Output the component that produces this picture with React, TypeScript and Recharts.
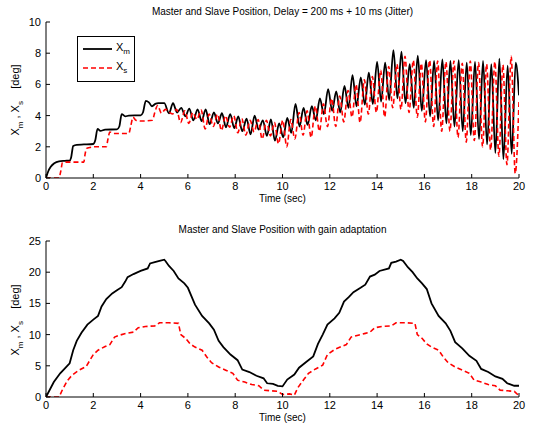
import React from 'react';
import { LineChart, Line, XAxis, YAxis } from 'recharts';

// time ticks shared by both plots
const timeTicks = [0, 2, 4, 6, 8, 10, 12, 14, 16, 18, 20];
const topTicks = [0, 2, 4, 6, 8, 10];
const bottomTicks = [0, 5, 10, 15, 20, 25];

// top plot: [time, deg]
const topMaster: [number, number][] = [
  [0, 0], [0.1, 0.45], [0.2, 0.72], [0.35, 0.95], [0.55, 1.07], [0.8, 1.1], [1.0, 1.12], [1.06, 1.3],
  [1.15, 2.05], [1.3, 2.13], [1.6, 2.15], [2.0, 2.18], [2.08, 2.4], [2.18, 3.15], [2.3, 3.02], [2.5, 3.1],
  [3.0, 3.12], [3.1, 3.3], [3.2, 4.1], [3.35, 3.95], [3.5, 4.0], [4.0, 4.02], [4.1, 4.2], [4.22, 4.95],
  [4.35, 4.85], [4.48, 4.6], [4.62, 4.75], [4.75, 4.8], [5.0, 4.8],
  [5.2, 4.15], [5.37, 4.8], [5.54, 4.2], [5.72, 4.5], [5.89, 3.95], [6.06, 4.45], [6.23, 3.7], [6.41, 4.4],
  [6.58, 3.65], [6.75, 4.4], [6.92, 3.45], [7.1, 4.2], [7.27, 3.5], [7.44, 4.15], [7.61, 3.25], [7.79, 4.1],
  [7.96, 3.2], [8.13, 3.95], [8.3, 3.0], [8.48, 3.8], [8.65, 2.8], [8.82, 4.0], [8.99, 3.1], [9.17, 3.7],
  [9.34, 2.7], [9.51, 3.75], [9.68, 2.4], [9.86, 3.5], [10.03, 2.6], [10.2, 3.85], [10.37, 2.9], [10.55, 4.75],
  [10.72, 3.3], [10.89, 4.5], [11.06, 3.4], [11.24, 4.6], [11.41, 3.7], [11.58, 5.1], [11.75, 4.1], [11.93, 5.7],
  [12.1, 4.3], [12.27, 5.55], [12.44, 4.2], [12.62, 5.9], [12.79, 4.5], [12.96, 6.6], [13.13, 4.6], [13.31, 6.45],
  [13.48, 4.7], [13.65, 6.75], [13.82, 4.75], [14.0, 7.45], [14.17, 4.9], [14.34, 7.4], [14.51, 5.0], [14.69, 8.2],
  [14.86, 5.1], [15.03, 8.1], [15.2, 4.8], [15.38, 7.3], [15.55, 4.5], [15.72, 7.85], [15.89, 4.3], [16.07, 7.55],
  [16.24, 3.95], [16.41, 7.5], [16.58, 3.7], [16.76, 7.6], [16.93, 3.5], [17.1, 7.5], [17.27, 3.3], [17.45, 7.55],
  [17.62, 3.0], [17.79, 7.4], [17.96, 2.75], [18.14, 7.45], [18.31, 2.5], [18.48, 7.5], [18.65, 2.15], [18.83, 7.3],
  [19.0, 1.6], [19.17, 7.65], [19.34, 1.2], [19.52, 7.2], [19.69, 1.55], [19.86, 7.4], [20.0, 5.3],
];

const topSlave: [number, number][] = [
  [0, 0], [0.55, 0], [0.62, 0.4], [0.7, 1.0], [0.9, 1.02], [1.6, 1.02], [1.65, 1.5], [1.72, 1.9],
  [1.85, 1.95], [2.0, 2.0], [2.55, 2.0], [2.62, 2.5], [2.7, 2.95], [2.85, 2.85], [3.5, 2.85], [3.58, 3.3],
  [3.68, 3.9], [3.8, 3.7], [4.0, 3.65], [4.5, 3.7], [4.6, 4.2], [4.72, 4.65], [4.88, 4.15], [5.05, 4.4],
  [5.35, 4.1], [5.52, 4.4], [5.69, 3.55], [5.87, 4.3], [6.04, 3.5], [6.21, 4.2], [6.38, 3.75], [6.56, 4.35],
  [6.73, 3.15], [6.9, 4.1], [7.07, 3.3], [7.25, 4.1], [7.42, 3.05], [7.59, 4.0], [7.76, 3.25], [7.94, 4.0],
  [8.11, 2.9], [8.28, 3.8], [8.45, 2.75], [8.63, 3.7], [8.8, 2.95], [8.97, 3.75], [9.14, 2.5], [9.32, 3.7],
  [9.49, 2.7], [9.66, 3.55], [9.83, 2.2], [10.01, 3.7], [10.18, 2.0], [10.35, 3.75], [10.52, 2.5], [10.7, 4.2],
  [10.87, 2.75], [11.04, 4.3], [11.21, 2.6], [11.39, 4.6], [11.56, 3.0], [11.73, 4.75], [11.9, 3.3], [12.08, 5.1],
  [12.25, 3.3], [12.42, 5.25], [12.59, 3.6], [12.77, 5.6], [12.94, 3.9], [13.11, 6.0], [13.28, 3.55], [13.46, 6.3],
  [13.63, 4.1], [13.8, 6.5], [13.97, 4.2], [14.15, 6.9], [14.32, 3.9], [14.49, 7.15], [14.66, 4.5], [14.84, 7.3],
  [15.01, 4.4], [15.18, 7.8], [15.35, 4.2], [15.53, 7.55], [15.7, 3.9], [15.87, 7.35], [16.04, 3.6], [16.22, 7.55],
  [16.39, 3.3], [16.56, 7.5], [16.73, 3.0], [16.91, 7.45], [17.08, 3.0], [17.25, 7.5], [17.42, 2.6], [17.6, 7.35],
  [17.77, 2.3], [17.94, 7.5], [18.11, 2.4], [18.29, 7.4], [18.46, 2.0], [18.63, 7.3], [18.8, 1.8], [18.98, 7.45],
  [19.15, 1.4], [19.32, 7.25], [19.49, 0.85], [19.67, 7.8], [19.84, 0.3], [20.0, 4.9],
];

// bottom plot: [time, deg]
const bottomMaster: [number, number][] = [
  [0, 0], [0.33, 2.4], [0.6, 3.8], [0.8, 4.6], [1.0, 5.4], [1.15, 7.5], [1.3, 9.0], [1.5, 10.3],
  [1.75, 11.6], [2.0, 12.4], [2.2, 13.0], [2.35, 14.5], [2.55, 15.7], [2.8, 16.6], [3.0, 17.1], [3.2, 17.6],
  [3.35, 18.5], [3.45, 19.2], [3.7, 19.7], [4.0, 20.2], [4.3, 20.6], [4.4, 21.4], [4.6, 21.6], [4.8, 21.8],
  [5.0, 22.0], [5.05, 21.8], [5.2, 21.0], [5.4, 20.2], [5.6, 19.0], [5.85, 18.2], [6.0, 17.5], [6.3, 14.8],
  [6.6, 13.0], [6.9, 11.8], [7.1, 10.8], [7.3, 9.0], [7.5, 8.0], [7.8, 6.8], [8.1, 5.9], [8.3, 4.4],
  [8.6, 4.0], [8.9, 3.4], [9.2, 3.0], [9.35, 2.2], [9.6, 2.1], [9.8, 1.8], [10.0, 1.7], [10.2, 2.8],
  [10.5, 3.6], [10.7, 4.7], [11.0, 5.6], [11.3, 6.5], [11.5, 8.5], [11.7, 10.0], [11.9, 11.6], [12.2, 12.6],
  [12.4, 13.5], [12.6, 15.3], [12.8, 16.0], [13.0, 16.8], [13.3, 17.5], [13.5, 18.0], [13.7, 19.3], [13.9, 19.6],
  [14.1, 20.2], [14.5, 20.6], [14.6, 21.5], [14.8, 21.7], [15.0, 22.0], [15.1, 21.8], [15.3, 20.8], [15.5, 20.0],
  [15.7, 19.0], [15.9, 18.2], [16.1, 17.3], [16.3, 15.0], [16.6, 13.0], [16.9, 11.8], [17.1, 10.6], [17.3, 8.8],
  [17.6, 7.8], [17.9, 6.6], [18.2, 5.8], [18.4, 4.5], [18.7, 4.0], [19.0, 3.3], [19.3, 2.9], [19.5, 2.2],
  [19.8, 1.8], [20.0, 1.8],
];

const bottomSlave: [number, number][] = [
  [0, 0], [0.55, 0], [0.7, 1.2], [0.9, 2.6], [1.1, 3.5], [1.4, 4.3], [1.7, 4.9], [2.0, 6.8],
  [2.2, 7.5], [2.5, 8.1], [2.7, 8.4], [2.9, 9.6], [3.1, 9.9], [3.4, 10.2], [3.7, 10.4], [3.9, 11.1],
  [4.2, 11.3], [4.6, 11.4], [4.8, 11.9], [5.2, 11.9], [5.6, 11.8], [5.7, 10.0], [5.9, 9.4], [6.1, 8.5],
  [6.3, 8.0], [6.6, 7.5], [6.8, 6.4], [7.0, 5.5], [7.3, 4.8], [7.6, 4.3], [7.9, 3.8], [8.1, 2.7],
  [8.4, 2.4], [8.7, 2.0], [9.0, 1.8], [9.2, 1.1], [9.5, 1.0], [9.8, 0.9], [10.0, 0.4], [10.3, 0.5],
  [10.5, 0.3], [10.65, 1.5], [10.9, 2.8], [11.1, 3.8], [11.4, 4.5], [11.7, 5.1], [11.9, 6.8], [12.2, 7.6],
  [12.5, 8.1], [12.7, 8.4], [12.9, 9.6], [13.2, 9.9], [13.5, 10.2], [13.7, 10.4], [13.9, 11.1], [14.2, 11.3],
  [14.6, 11.4], [14.8, 11.9], [15.2, 11.9], [15.6, 11.8], [15.7, 10.0], [15.9, 9.4], [16.1, 8.5], [16.3, 8.0],
  [16.6, 7.5], [16.8, 6.4], [17.0, 5.5], [17.3, 4.8], [17.6, 4.3], [17.9, 3.8], [18.1, 2.7], [18.4, 2.4],
  [18.7, 2.0], [19.0, 1.8], [19.2, 1.1], [19.5, 1.0], [19.8, 0.9], [20.0, 0.2],
];

const FONT = '"Liberation Sans", Arial, sans-serif';
const toRows = (arr: [number, number][]) => arr.map(([t, v]) => ({ t, v }));

// MATLAB style ticks: small marks pointing into the box
const BottomTick = (props: any) => {
  const { x, y, payload } = props;
  return (
    <g>
      <line x1={x} y1={y} x2={x} y2={y - 4} stroke="#000" />
      <text x={x} y={y + 12} textAnchor="middle" fontSize={11} fontFamily={FONT} fill="#000">{payload.value}</text>
    </g>
  );
};
const TopTick = (props: any) => (
  <line x1={props.x} y1={props.y} x2={props.x} y2={props.y + 4} stroke="#000" />
);
const LeftTick = (props: any) => {
  const { x, y, payload } = props;
  return (
    <g>
      <line x1={x} y1={y} x2={x + 4} y2={y} stroke="#000" />
      <text x={x - 5} y={y + 4} textAnchor="end" fontSize={11} fontFamily={FONT} fill="#000">{payload.value}</text>
    </g>
  );
};
const RightTick = (props: any) => (
  <line x1={props.x} y1={props.y} x2={props.x - 4} y2={props.y} stroke="#000" />
);

const Panel = ({ master, slave, yMax, yTicks, smooth }: any) => (
  <LineChart width={534} height={210} margin={{ top: 22, right: 15, bottom: 7, left: 6 }}>
    <XAxis dataKey="t" type="number" domain={[0, 20]} ticks={timeTicks} tickSize={0} tickMargin={0}
      tick={<BottomTick />} height={25} stroke="#000" allowDataOverflow />
    <XAxis xAxisId="top" orientation="top" dataKey="t" type="number" domain={[0, 20]} ticks={timeTicks}
      tickSize={0} tickMargin={0} tick={<TopTick />} height={0} stroke="#000" allowDataOverflow />
    <YAxis type="number" domain={[0, yMax]} ticks={yTicks} tickSize={0} tickMargin={0} tick={<LeftTick />}
      width={40} stroke="#000" allowDataOverflow />
    <YAxis yAxisId="right" orientation="right" type="number" domain={[0, yMax]} ticks={yTicks} tickSize={0}
      tickMargin={0} tick={<RightTick />} width={0} stroke="#000" allowDataOverflow />
    <Line data={toRows(master)} dataKey="v" type={smooth ? 'monotone' : 'linear'} stroke="#000" strokeWidth={1.8}
      dot={false} isAnimationActive={false} />
    <Line data={toRows(slave)} dataKey="v" type={smooth ? 'monotone' : 'linear'} stroke="#ff0000" strokeWidth={1.6}
      strokeDasharray="5 3" dot={false} isAnimationActive={false} />
  </LineChart>
);

const YLabel = ({ top }: { top: number }) => (
  <div style={{
    position: 'absolute', left: 17, top, transform: 'translate(-50%, -50%) rotate(-90deg)',
    whiteSpace: 'nowrap', fontFamily: FONT, fontSize: 11,
  }}>
    X<sub style={{ fontSize: 8 }}>m</sub> , X<sub style={{ fontSize: 8 }}>s</sub>&nbsp;&nbsp;&nbsp;&nbsp;[deg]
  </div>
);

const textStyle: React.CSSProperties = {
  position: 'absolute', left: 46, width: 473, textAlign: 'center', fontFamily: FONT, fontSize: 10, whiteSpace: 'nowrap',
};

export default function App() {
  return (
    <div style={{ position: 'absolute', left: 0, top: 0, width: 534, height: 427, background: '#fff', overflow: 'hidden' }}>
      <div style={{ position: 'absolute', left: 0, top: 0 }}>
        <Panel master={topMaster} slave={topSlave} yMax={10} yTicks={topTicks} smooth />
      </div>
      <div style={{ position: 'absolute', left: 0, top: 219 }}>
        <Panel master={bottomMaster} slave={bottomSlave} yMax={25} yTicks={bottomTicks} smooth={false} />
      </div>

      <div style={{ ...textStyle, top: 6 }}>Master and Slave Position, Delay = 200 ms + 10 ms (Jitter)</div>
      <div style={{ ...textStyle, top: 193 }}>Time (sec)</div>
      <div style={{ ...textStyle, top: 224 }}>Master and Slave Position with gain adaptation</div>
      <div style={{ ...textStyle, top: 412 }}>Time (sec)</div>
      <YLabel top={100} />
      <YLabel top={320} />

      {/* legend */}
      <div style={{ position: 'absolute', left: 77, top: 36, width: 56, height: 44, border: '1px solid #000', background: '#fff', fontFamily: FONT, fontSize: 11 }}>
        <svg width={56} height={44} style={{ position: 'absolute', left: 0, top: 0 }}>
          <line x1={5} y1={12} x2={34} y2={12} stroke="#000" strokeWidth={1.8} />
          <line x1={5} y1={31} x2={34} y2={31} stroke="#ff0000" strokeWidth={1.6} strokeDasharray="5 3" />
        </svg>
        <div style={{ position: 'absolute', left: 38, top: 4 }}>X<sub style={{ fontSize: 8 }}>m</sub></div>
        <div style={{ position: 'absolute', left: 38, top: 23 }}>X<sub style={{ fontSize: 8 }}>s</sub></div>
      </div>
    </div>
  );
}
